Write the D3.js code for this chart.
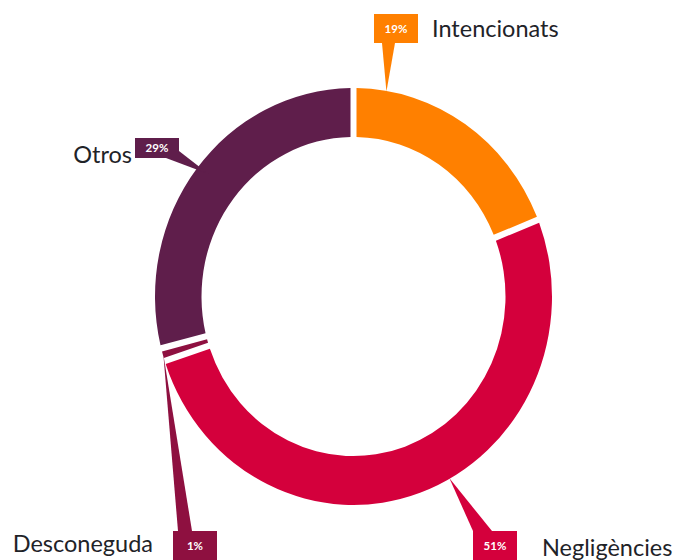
<!DOCTYPE html>
<html>
<head>
<meta charset="utf-8">
<script src="https://cdn.jsdelivr.net/npm/d3@7"></script>
<style>
html,body{margin:0;padding:0;background:#fff;}
svg{display:block;}
</style>
</head>
<body>
<svg id="chart" width="686" height="560"></svg>
<script>
// ---- data ----
const categories = ["Intencionats", "Negligències", "Desconeguda", "Otros"];
const values = [19, 51, 1, 29];
const pctLabels = ["19%", "51%", "1%", "29%"];
const colors = ["#FF8000", "#D4003C", "#8E1040", "#5F1E4B"];

// ---- layout ----
const W = 686, H = 560;
const cx = 353.5, cy = 296.5;
const outerR = 198.5, innerR = 152;
const yScale = 1.05;

// callout layout
const callouts = [
  {box:[374,14,44,29], base:[[382,43],[395,43]], tipFrac:0.14, tipR:198, text:[432,37], anchor:"start"},
  {box:[473,531,44,29], base:[[473,531],[492,531]], tipFrac:0.45, tipR:198, text:[542,556], anchor:"start"},
  {box:[173,531,44,29], base:[[178,531],[192,531]], tipFrac:0.5, tipR:198, text:[153,552], anchor:"end"},
  {box:[135,138,44,20], base:[[166,158],[179,151]], tipFrac:0.51, tipR:186, text:[132,163], anchor:"end"}
];

const svg = d3.select("#chart");
const g = svg.append("g").attr("transform", `translate(${cx},${cy}) scale(1,${yScale})`);

const pie = d3.pie().value(d => d).sort(null);
const arcs = pie(values);
const arc = d3.arc().innerRadius(innerR).outerRadius(outerR).padAngle(0.03).padRadius(200);

g.selectAll("path.slice").data(arcs).join("path")
  .attr("class","slice")
  .attr("d", arc)
  .attr("fill", (d,i) => colors[i]);

// callouts
const lay = svg.append("g");
arcs.forEach((a, i) => {
  const c = callouts[i];
  const ang = a.startAngle + (a.endAngle - a.startAngle) * c.tipFrac;
  const tx = cx + c.tipR * Math.sin(ang);
  const ty = cy - c.tipR * Math.cos(ang) * yScale;
  lay.append("path")
    .attr("d", d3.line()([c.base[0], [tx, ty], c.base[1]]) + "Z")
    .attr("fill", colors[i]);
  lay.append("rect")
    .attr("x", c.box[0]).attr("y", c.box[1])
    .attr("width", c.box[2]).attr("height", c.box[3])
    .attr("fill", colors[i]);
  lay.append("text")
    .attr("x", c.box[0] + c.box[2]/2)
    .attr("y", c.box[1] + c.box[3]/2 + 4)
    .attr("text-anchor", "middle")
    .attr("font-family", "Lato, 'Open Sans', sans-serif")
    .attr("font-weight", "bold")
    .attr("font-size", 11.5)
    .attr("fill", "#fff")
    .text(pctLabels[i]);
  lay.append("text")
    .attr("x", c.text[0]).attr("y", c.text[1])
    .attr("text-anchor", c.anchor)
    .attr("font-family", "Lato, 'Open Sans', sans-serif")
    .attr("font-size", 23.5)
    .attr("fill", "#1f2328")
    .text(categories[i]);
});
</script>
</body>
</html>
